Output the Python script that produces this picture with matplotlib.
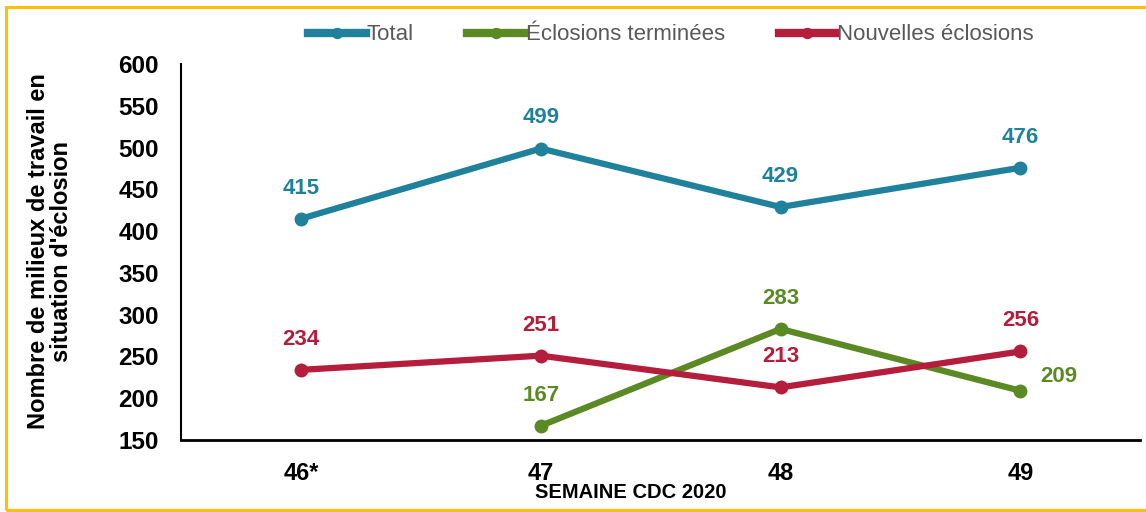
import matplotlib
matplotlib.use('Agg')
import matplotlib.pyplot as plt
from matplotlib.patches import Rectangle

plt.rcParams['font.family'] = ['Liberation Sans', 'DejaVu Sans']

weeks = ['46*', '47', '48', '49']
total = [415, 499, 429, 476]
terminees = [None, 167, 283, 209]
nouvelles = [234, 251, 213, 256]

c_total = '#1F819B'
c_term = '#5B8A25'
c_nouv = '#B51D3C'

fig = plt.figure(figsize=(11.46, 5.12), dpi=100)
ax = fig.add_axes([0.158, 0.1406, 0.837, 0.734])

x = list(range(len(weeks)))
xt = [i for i, v in zip(x, terminees) if v is not None]
yt = [v for v in terminees if v is not None]

ax.plot(x, total, color=c_total, lw=4.5, marker='o', ms=9, label='Total')
ax.plot(xt, yt, color=c_term, lw=4.5, marker='o', ms=9, label='Éclosions terminées')
ax.plot(x, nouvelles, color=c_nouv, lw=4.5, marker='o', ms=9, label='Nouvelles éclosions')

# data labels
for i, v in zip(x, total):
    ax.annotate(str(v), (i, v), xytext=(0, 22), textcoords='offset points',
                ha='center', va='center', color=c_total, fontsize=16, fontweight='bold')
for i, v in zip(x, nouvelles):
    ax.annotate(str(v), (i, v), xytext=(0, 22), textcoords='offset points',
                ha='center', va='center', color=c_nouv, fontsize=16, fontweight='bold')
for j, (i, v) in enumerate(zip(xt, yt)):
    off = (28, 10) if j == len(xt) - 1 else (0, 22)
    ax.annotate(str(v), (i, v), xytext=off, textcoords='offset points',
                ha='center', va='center', color=c_term, fontsize=16, fontweight='bold')

ax.set_xlim(-0.5, 3.5)
ax.set_ylim(150, 600)
ax.set_yticks(range(150, 601, 50))
ax.set_xticks(x)
ax.set_xticklabels(weeks)
ax.tick_params(axis='y', length=0, pad=16, labelsize=17.5)
ax.tick_params(axis='x', length=0, pad=16, labelsize=17)
for lab in ax.get_xticklabels() + ax.get_yticklabels():
    lab.set_fontweight('bold')

ax.spines['top'].set_visible(False)
ax.spines['right'].set_visible(False)
ax.spines['left'].set_linewidth(1.5)
ax.spines['bottom'].set_linewidth(2)

fig.text(50 / 1146, 1 - 251 / 512, "Nombre de milieux de travail en\nsituation d'éclosion",
         rotation=90, ha='center', va='center', fontsize=17, fontweight='bold',
         linespacing=0.95)
fig.text(631 / 1146, 1 - 493 / 512, 'SEMAINE CDC 2020', ha='center', va='center',
         fontsize=14.5, fontweight='bold')

leg = fig.legend(loc='center', bbox_to_anchor=(671 / 1146, 1 - 35 / 512), ncol=3,
                 frameon=False, fontsize=16, handlelength=2.6, handletextpad=0.05,
                 columnspacing=2.4, numpoints=1, markerscale=0.8)
for t in leg.get_texts():
    t.set_color('#595959')
for h in leg.legend_handles:
    h.set_linewidth(6)

fig.patches.append(Rectangle((6 / 1146, 2 / 512), 1.2, 503 / 512, transform=fig.transFigure,
                             fill=False, edgecolor='#FFC000', lw=2.2))

fig.savefig('out.png', dpi=100)
